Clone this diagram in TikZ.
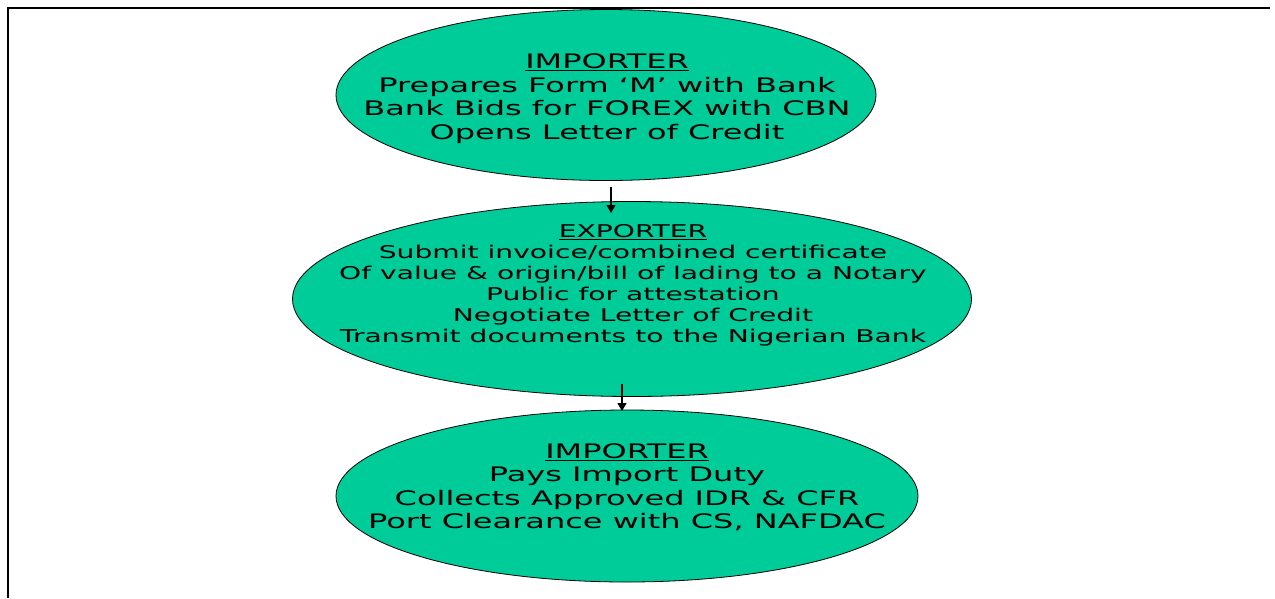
\documentclass[tikz,border=0pt]{standalone}
\usepackage{fontspec}
\setmainfont{DejaVu Sans}[FakeStretch=1.6]
\usetikzlibrary{shapes.geometric,arrows.meta}
\definecolor{ovalgreen}{HTML}{00CC99}
\tikzset{
  oval/.style={ellipse, draw=black, line width=0.8pt, fill=ovalgreen, inner sep=0pt},
  ovaltext/.style={align=center, inner sep=0pt, font=\fontsize{20}{23.5}\selectfont},
  ovaltextsmall/.style={align=center, inner sep=0pt, font=\fontsize{17.6}{21}\selectfont},
  flow/.style={line width=1.3pt, -{Triangle[width=9pt,length=8pt]}},
  frame/.style={line width=1.8pt}
}
\begin{document}
\begin{tikzpicture}[x=1pt,y=-1pt]
\useasboundingbox (0,0) rectangle (1275,598);
\coordinate (ftl) at (8,8);
\coordinate (ftr) at (1270,8);
\coordinate (fbl) at (8,598);
\draw[frame] (ftr) -- (ftl) -- (fbl);

\node[oval, minimum width=540pt, minimum height=171pt] (e1) at (606,95) {};
\node[oval, minimum width=679pt, minimum height=195pt] (e2) at (632,299) {};
\node[oval, minimum width=582pt, minimum height=172pt] (e3) at (627,496) {};

\node[ovaltext] (t1) at (607,98.5) {\underline{IMPORTER}\\Prepares Form `M' with Bank\\Bank Bids for FOREX with CBN\\Opens Letter of Credit};
\node[ovaltextsmall] (t2) at (633,285.5) {\underline{EXPORTER}\\Submit invoice/combined certificate\\Of value \& origin/bill of lading to a Notary\\Public for attestation\\Negotiate Letter of Credit\\Transmit documents to the Nigerian Bank};
\node[ovaltext] (t3) at (627,487) {\underline{IMPORTER}\\Pays Import Duty\\Collects Approved IDR \& CFR\\Port Clearance with CS, NAFDAC};

\coordinate (a1s) at (611,187);
\coordinate (a1e) at (611,213);
\coordinate (a2s) at (622,384);
\coordinate (a2e) at (622,411);
\draw[flow] (a1s) -- (a1e);
\draw[flow] (a2s) -- (a2e);
\end{tikzpicture}
\end{document}
